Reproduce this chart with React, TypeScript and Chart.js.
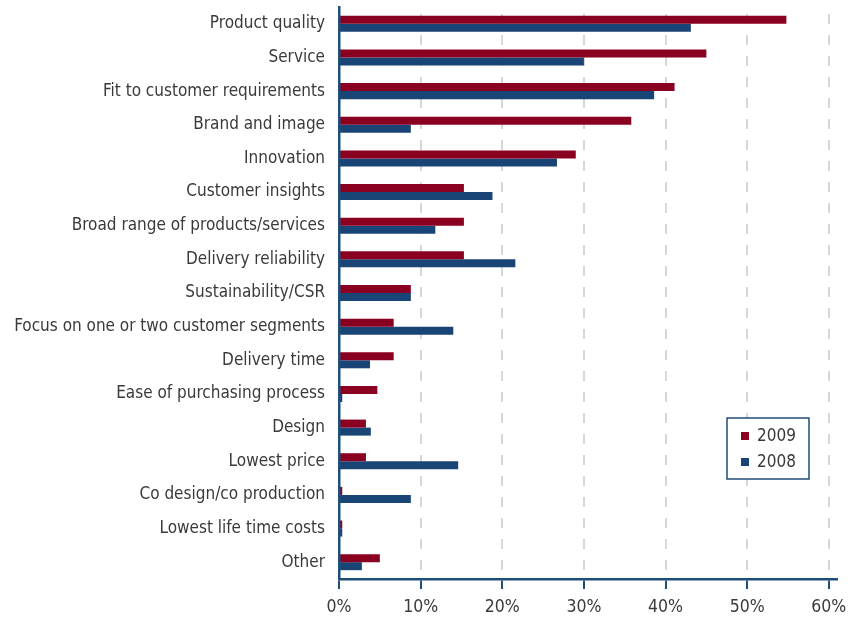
import { useEffect, useRef } from "react";
import { Chart, registerables } from "chart.js";

Chart.register(...registerables);

const CATEGORIES = [
  "Product quality",
  "Service",
  "Fit to customer requirements",
  "Brand and image",
  "Innovation",
  "Customer insights",
  "Broad range of products/services",
  "Delivery reliability",
  "Sustainability/CSR",
  "Focus on one or two customer segments",
  "Delivery time",
  "Ease of purchasing process",
  "Design",
  "Lowest price",
  "Co design/co production",
  "Lowest life time costs",
  "Other",
];

const VALUES_2009 = [54.8, 45.0, 41.1, 35.8, 29.0, 15.3, 15.3, 15.3, 8.8, 6.7, 6.7, 4.7, 3.3, 3.3, 0.4, 0.4, 5.0];
const VALUES_2008 = [43.1, 30.0, 38.6, 8.8, 26.7, 18.8, 11.8, 21.6, 8.8, 14.0, 3.8, 0.4, 3.9, 14.6, 8.8, 0.4, 2.8];

const X_TICKS = [0, 10, 20, 30, 40, 50, 60];

const RED = "#8a0021";
const BLUE = "#184575";
const AXIS = "#1f4e79";
const TEXT = "#3a3a3a";
const FONT = '"DejaVu Sans Condensed", "Liberation Sans Narrow", sans-serif';

// legend box drawn inside the plot area, lower right
const boxLegend = {
  id: "boxLegend",
  afterDraw(chart: Chart) {
    const { ctx, chartArea } = chart;
    const x = chartArea.right - 110;
    const y = chartArea.bottom - 161;
    const w = 82;
    const h = 61;
    ctx.save();
    ctx.fillStyle = "#fff";
    ctx.fillRect(x, y, w, h);
    ctx.strokeStyle = AXIS;
    ctx.lineWidth = 1.5;
    ctx.strokeRect(x, y, w, h);
    ctx.font = `17px ${FONT}`;
    ctx.textBaseline = "middle";
    ctx.textAlign = "left";
    chart.data.datasets.forEach((ds, i) => {
      const cy = y + 18 + i * 26;
      ctx.fillStyle = ds.backgroundColor as string;
      ctx.fillRect(x + 14, cy - 4, 8, 8);
      ctx.fillStyle = TEXT;
      ctx.fillText(String(ds.label), x + 30, cy + 1);
    });
    ctx.restore();
  },
};

export default function App() {
  const canvasRef = useRef<HTMLCanvasElement>(null);
  const chartRef = useRef<Chart | null>(null);

  useEffect(() => {
    if (!canvasRef.current) return;
    chartRef.current?.destroy();

    chartRef.current = new Chart(canvasRef.current, {
      type: "bar",
      data: {
        labels: CATEGORIES,
        datasets: [
          { label: "2009", data: VALUES_2009, backgroundColor: RED },
          { label: "2008", data: VALUES_2008, backgroundColor: BLUE },
        ],
      },
      plugins: [boxLegend],
      options: {
        indexAxis: "y",
        animation: false,
        responsive: true,
        maintainAspectRatio: false,
        layout: { padding: { top: 7, right: 11, left: 0, bottom: 0 } },
        datasets: {
          bar: { categoryPercentage: 0.476, barPercentage: 1 },
        },
        plugins: {
          legend: { display: false },
          tooltip: { enabled: false },
        },
        scales: {
          x: {
            min: 0,
            max: 61,
            afterBuildTicks: (axis) => {
              axis.ticks = X_TICKS.map((v) => ({ value: v }));
            },
            afterFit: (axis) => {
              axis.height = 41;
              axis.paddingLeft = 0;
              axis.paddingRight = 0;
            },
            grid: {
              color: "#d6d6d6",
              lineWidth: 2,
              tickColor: AXIS,
              tickWidth: 2,
              tickLength: 10,
            },
            border: { color: AXIS, width: 2.5, dash: [10, 11], dashOffset: 14, z: 1 },
            ticks: {
              color: TEXT,
              padding: 8,
              font: { size: 17.5, family: FONT },
              callback: (v) => `${v}%`,
            },
          },
          y: {
            afterFit: (axis) => {
              axis.width = 339;
              axis.paddingTop = 0;
              axis.paddingBottom = 0;
            },
            grid: { display: false, drawTicks: false },
            border: { color: AXIS, width: 2.5, z: 1 },
            ticks: {
              color: TEXT,
              padding: 14,
              font: { size: 17, family: FONT },
            },
          },
        },
      },
    });

    return () => {
      chartRef.current?.destroy();
      chartRef.current = null;
    };
  }, []);

  return (
    <div style={{ position: "absolute", left: 0, top: 0, width: 848, height: 620 }}>
      <canvas ref={canvasRef} />
    </div>
  );
}
